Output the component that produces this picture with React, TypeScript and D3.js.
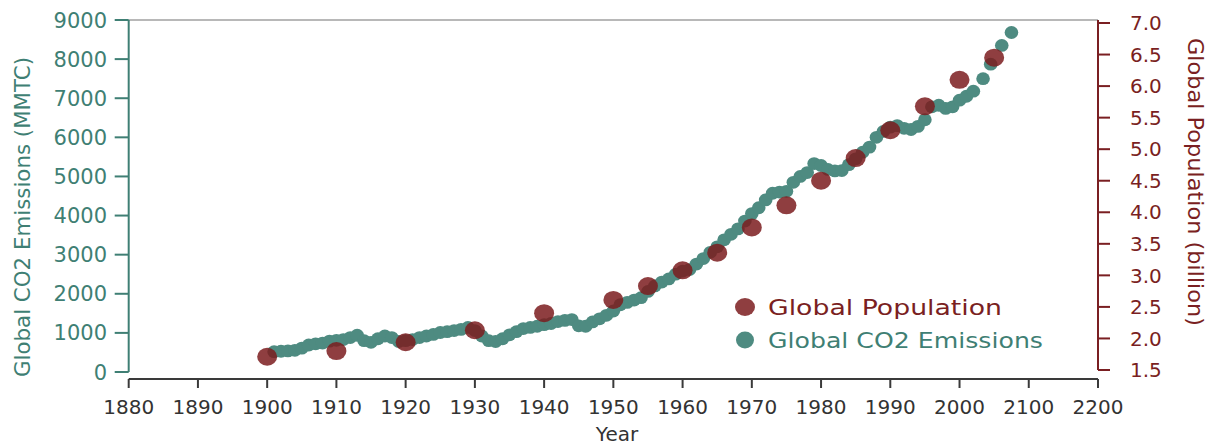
import React from "react";
import * as d3 from "d3";

const co2Years: number[] = [
  1901, 1902, 1903, 1904, 1905, 1906, 1907, 1908, 1909, 1910,
  1911, 1912, 1913, 1914, 1915, 1916, 1917, 1918, 1919, 1920,
  1921, 1922, 1923, 1924, 1925, 1926, 1927, 1928, 1929, 1930,
  1931, 1932, 1933, 1934, 1935, 1936, 1937, 1938, 1939, 1940,
  1941, 1942, 1943, 1944, 1945, 1946, 1947, 1948, 1949, 1950,
  1951, 1952, 1953, 1954, 1955, 1956, 1957, 1958, 1959, 1960,
  1961, 1962, 1963, 1964, 1965, 1966, 1967, 1968, 1969, 1970,
  1971, 1972, 1973, 1974, 1975, 1976, 1977, 1978, 1979, 1980,
  1981, 1982, 1983, 1984, 1985, 1986, 1987, 1988, 1989, 1990,
  1991, 1992, 1993, 1994, 1995, 1996, 1997, 1998, 1999, 2000,
  2001, 2002, 2003.4, 2004.5, 2006.1, 2007.5,
];
const co2Values: number[] = [
  520, 530, 540, 555, 610, 690, 720, 740, 790, 810,
  830, 880, 940, 800, 760, 850, 920, 880, 780, 800,
  830, 880, 920, 960, 1010, 1030, 1060, 1090, 1140, 1060,
  920, 800, 780, 850, 950, 1030, 1110, 1140, 1170, 1210,
  1240, 1290, 1320, 1340, 1180, 1170, 1280, 1360, 1450, 1560,
  1720, 1780, 1840, 1900, 2060, 2200, 2300, 2380, 2500, 2580,
  2620, 2760, 2900, 3060, 3200, 3380, 3520, 3660, 3860, 4050,
  4200, 4400, 4570, 4600, 4620, 4850, 5000, 5100, 5330, 5280,
  5180, 5140, 5150, 5300, 5450, 5620, 5750, 6000, 6150, 6260,
  6300, 6230, 6200, 6280, 6450, 6780, 6820, 6740, 6780, 6950,
  7050, 7180, 7500, 7870, 8350, 8680,
];

const popYears: number[] = [1900, 1910, 1920, 1930, 1940, 1950, 1955, 1960, 1965, 1970, 1975, 1980, 1985, 1990, 1995, 2000, 2005];
const popValues: number[] = [1.71, 1.8, 1.94, 2.13, 2.4, 2.61, 2.83, 3.08, 3.36, 3.76, 4.11, 4.5, 4.86, 5.3, 5.68, 6.1, 6.45];

const xTickValues: number[] = [1880, 1890, 1900, 1910, 1920, 1930, 1940, 1950, 1960, 1970, 1980, 1990, 2000, 2010, 2020];
const xTickLabels: string[] = ["1880", "1890", "1900", "1910", "1920", "1930", "1940", "1950", "1960", "1970", "1980", "1990", "2000", "2100", "2200"];
const leftTicks: number[] = [0, 1000, 2000, 3000, 4000, 5000, 6000, 7000, 8000, 9000];
const rightTicks: number[] = [1.5, 2.0, 2.5, 3.0, 3.5, 4.0, 4.5, 5.0, 5.5, 6.0, 6.5, 7.0];

const TEAL = "#3f7f74";
const TEAL_DOT = "#4e8b81";
const RED = "#7a1f22";
const RED_DOT = "#7b1c1e";
const FONT = "DejaVu Sans, sans-serif";

export default function App() {
  const x = d3.scaleLinear().domain([1880, 2020]).range([128.7, 1098]);
  const yL = d3.scaleLinear().domain([0, 9000]).range([372, 20]);
  const yR = d3.scaleLinear().domain([1.5, 7.0]).range([370, 23]);
  const axisY = 379;

  return (
    <svg width={1217} height={448} style={{ position: "absolute", left: 0, top: 0, background: "#fff" }} fontFamily={FONT}>
      <rect x={0} y={0} width={1217} height={448} fill="#fff" />
      {/* top border */}
      <line x1={x(1880)} x2={x(2020)} y1={20} y2={20} stroke="#a0a0a0" strokeWidth={1.5} />

      {/* left axis */}
      <line x1={x(1880)} x2={x(1880)} y1={yL(9000)} y2={yL(0)} stroke={TEAL} strokeWidth={2} />
      {leftTicks.map((t) => (
        <g key={"l" + t}>
          <line x1={x(1880) - 14} x2={x(1880)} y1={yL(t)} y2={yL(t)} stroke={TEAL} strokeWidth={2} />
          <text x={107} y={yL(t)} dy="0.36em" textAnchor="end" fontSize={21} fill={TEAL}>
            {d3.format("d")(t)}
          </text>
        </g>
      ))}
      <text
        transform={`translate(30,${217}) rotate(-90)`}
        textAnchor="middle"
        fontSize={21}
        fill={TEAL}
        textLength={320}
        lengthAdjust="spacingAndGlyphs"
      >
        Global CO2 Emissions (MMTC)
      </text>

      {/* right axis */}
      <line x1={x(2020)} x2={x(2020)} y1={20} y2={yR(1.5)} stroke={RED} strokeWidth={2} />
      {rightTicks.map((t) => (
        <g key={"r" + t}>
          <line x1={x(2020)} x2={x(2020) + 12} y1={yR(t)} y2={yR(t)} stroke={RED} strokeWidth={2} />
          <text x={1130} y={yR(t)} dy="0.36em" textAnchor="start" fontSize={20} fill={RED}>
            {d3.format(".1f")(t)}
          </text>
        </g>
      ))}
      <text
        transform={`translate(1188,${182}) rotate(90)`}
        textAnchor="middle"
        fontSize={21}
        fill={RED}
        textLength={288}
        lengthAdjust="spacingAndGlyphs"
      >
        Global Population (billion)
      </text>

      {/* bottom axis */}
      <line x1={x(1880)} x2={x(2020)} y1={axisY} y2={axisY} stroke="#3a3a3a" strokeWidth={2} />
      {xTickValues.map((t, i) => (
        <g key={"x" + t}>
          <line x1={x(t)} x2={x(t)} y1={axisY} y2={axisY + 9} stroke="#3a3a3a" strokeWidth={2} />
          <text x={x(t)} y={414} textAnchor="middle" fontSize={20} fill="#333">
            {xTickLabels[i]}
          </text>
        </g>
      ))}
      <text x={617} y={441} textAnchor="middle" fontSize={20} fill="#333">
        Year
      </text>

      {/* CO2 dots */}
      {co2Years.map((yr, i) => (
        <ellipse key={"c" + i} cx={x(yr)} cy={yL(co2Values[i])} rx={6.8} ry={6.4} fill={TEAL_DOT} />
      ))}

      {/* population dots */}
      {popYears.map((yr, i) => (
        <ellipse key={"p" + i} cx={x(yr)} cy={yR(popValues[i])} rx={10} ry={9} fill={RED_DOT} fillOpacity={0.85} />
      ))}

      {/* legend */}
      <ellipse cx={745} cy={307} rx={10} ry={9} fill={RED_DOT} fillOpacity={0.85} />
      <text x={768} y={307} dy="0.36em" fontSize={21} fill={RED} textLength={234} lengthAdjust="spacingAndGlyphs">
        Global Population
      </text>
      <ellipse cx={745} cy={340} rx={9} ry={8.5} fill={TEAL_DOT} />
      <text x={768} y={340} dy="0.36em" fontSize={21} fill={TEAL} textLength={275} lengthAdjust="spacingAndGlyphs">
        Global CO2 Emissions
      </text>
    </svg>
  );
}
